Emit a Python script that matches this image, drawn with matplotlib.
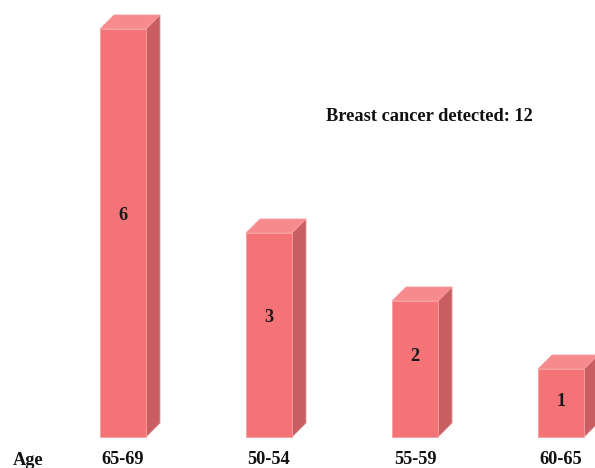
import matplotlib
matplotlib.use("Agg")
import matplotlib.pyplot as plt
from matplotlib.patches import Polygon, Rectangle

categories = ["65-69", "50-54", "55-59", "60-65"]
values = [6, 3, 2, 1]
axis_label = "Age"
annotation = "Breast cancer detected: 12"

front_c = "#F47376"
top_c = "#F68A8D"
side_c = "#C95E62"

fig = plt.figure(figsize=(5.95, 4.68), dpi=100)
ax = fig.add_axes([0, 0, 1, 1])
ax.set_xlim(-0.842, 3.233)
ax.set_ylim(-0.456, 6.426)
ax.axis("off")

w = 0.315
dx = 14 / 146
dy = 14 / 68
font = dict(family=["Liberation Serif", "DejaVu Serif"], fontweight="bold", fontsize=13.2)

for i, v in enumerate(values):
    x0 = i - w / 2
    x1 = i + w / 2
    ax.add_patch(Rectangle((x0, 0), w, v, facecolor=front_c, edgecolor="#F6A0A2", lw=0.6, zorder=3))
    ax.add_patch(Polygon([(x1, 0), (x1 + dx, dy), (x1 + dx, v + dy), (x1, v)],
                         closed=True, facecolor=side_c, edgecolor="#D88A8C", lw=0.6, zorder=2))
    ax.add_patch(Polygon([(x0, v), (x1, v), (x1 + dx, v + dy), (x0 + dx, v + dy)],
                         closed=True, facecolor=top_c, edgecolor="#F6A0A2", lw=0.6, zorder=2))
    off = 0.26 * min(1.0, (v - 0.85) / 1.6)
    ax.text(i, v / 2 + off, str(v), ha="center", va="center", color="#1a1a1a", zorder=4, **font)
    ax.text(i, -0.33, categories[i], ha="center", va="center", color="#111111", **font)

ax.text(-0.652, -0.34, axis_label, ha="center", va="center", color="#111111", **font)
ax.text(2.10, 4.72, annotation, ha="center", va="center", color="#111111", **font)

fig.savefig("out.png", dpi=100, facecolor="white")
